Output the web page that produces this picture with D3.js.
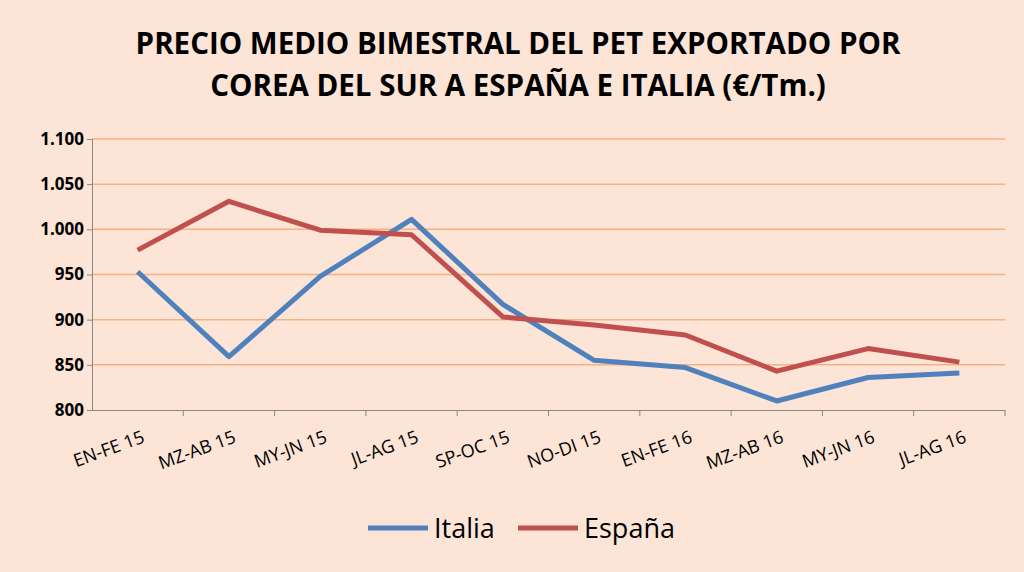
<!DOCTYPE html>
<html><head><meta charset="utf-8">
<script src="https://cdn.jsdelivr.net/npm/d3@7"></script>
<style>body{margin:0;background:#fce4d6;font-family:"Open Sans",Lato,sans-serif}</style>
</head><body><svg width="1024" height="572"></svg>
<script>
const categories = ["EN-FE 15","MZ-AB 15","MY-JN 15","JL-AG 15","SP-OC 15","NO-DI 15","EN-FE 16","MZ-AB 16","MY-JN 16","JL-AG 16"];
const italia = [953, 859, 948, 1011, 917, 855, 847, 810, 836, 841];
const espana = [977, 1031, 999, 994, 903, 894, 883, 843, 868, 853];
const yTicks = [800, 850, 900, 950, 1000, 1050, 1100];

const svg = d3.select("svg");
svg.append("rect").attr("width", 1024).attr("height", 572).attr("fill", "#fce4d6");

svg.append("text").attr("x", 518).attr("y", 54).attr("text-anchor", "middle")
  .style("font-size", "29.5px").style("font-weight", "bold").text("PRECIO MEDIO BIMESTRAL DEL PET EXPORTADO POR");
svg.append("text").attr("x", 518).attr("y", 96).attr("text-anchor", "middle")
  .style("font-size", "29.5px").style("font-weight", "bold").text("COREA DEL SUR A ESPAÑA E ITALIA (€/Tm.)");

const x = d3.scaleBand().domain(categories).range([92, 1005]);
const y = d3.scaleLinear().domain([800, 1100]).range([410, 139]);
const fmt = d => d3.format(",")(d).replace(",", ".");

// gridlines
svg.append("g").selectAll("line").data(yTicks.slice(1)).enter().append("line")
  .attr("x1", 92).attr("x2", 1005).attr("y1", d => y(d)).attr("y2", d => y(d))
  .attr("stroke", "#f4b183").attr("stroke-width", 1.5);

const yAxis = svg.append("g").attr("transform", "translate(92,0)")
  .call(d3.axisLeft(y).tickValues(yTicks).tickFormat(fmt).tickSize(5));
yAxis.attr("font-family", null);
yAxis.selectAll("text").style("font-size", "17px").style("font-weight", "bold").attr("fill", "#000");
yAxis.selectAll("line,path").attr("stroke", "#888");

const xAxis = svg.append("g").attr("transform", "translate(0,410)")
  .call(d3.axisBottom(x).tickSize(6).tickSizeOuter(0));
xAxis.attr("font-family", null);
xAxis.selectAll(".tick line").attr("transform", d => `translate(${x.step() / 2},0)`);
xAxis.selectAll("line,path").attr("stroke", "#888");
xAxis.selectAll("text").style("font-size", "18px").attr("fill", "#000")
  .attr("text-anchor", "end").attr("dy", 0).attr("y", 0)
  .attr("transform", "translate(8,32) rotate(-20)");

const line = d3.line().x((d, i) => x(categories[i]) + x.bandwidth() / 2).y(d => y(d));
svg.append("path").datum(italia).attr("d", line).attr("fill", "none")
  .attr("stroke", "#4f81bd").attr("stroke-width", 5).attr("stroke-linejoin", "round");
svg.append("path").datum(espana).attr("d", line).attr("fill", "none")
  .attr("stroke", "#c0504d").attr("stroke-width", 5).attr("stroke-linejoin", "round");

const legend = [["Italia", "#4f81bd", 368], ["España", "#c0504d", 518]];
legend.forEach(([name, c, lx]) => {
  svg.append("line").attr("x1", lx).attr("x2", lx + 60).attr("y1", 528).attr("y2", 528)
    .attr("stroke", c).attr("stroke-width", 5);
  svg.append("text").attr("x", lx + 66).attr("y", 538).style("font-size", "27px").text(name);
});
</script></body></html>
